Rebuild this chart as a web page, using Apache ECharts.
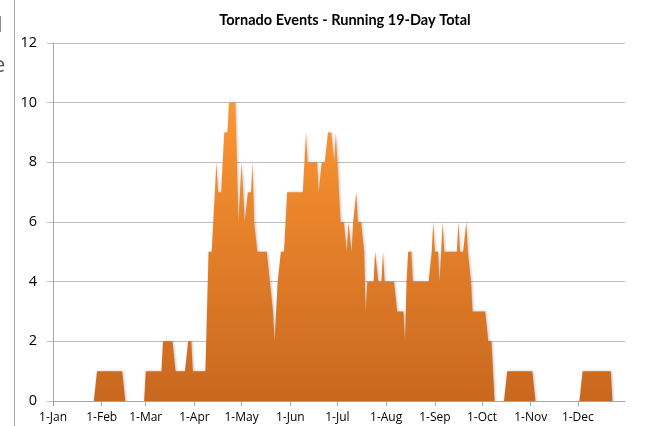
<!DOCTYPE html>
<html>
<head>
<meta charset="utf-8">
<script src="https://cdn.jsdelivr.net/npm/echarts@6/dist/echarts.min.js"></script>
<style>
html,body{margin:0;padding:0;background:#fff;}
#chart{width:652px;height:426px;}
</style>
</head>
<body>
<div id="chart"></div>
<script>
// Category labels (days of a non-leap year)
const monthNames = ['Jan','Feb','Mar','Apr','May','Jun','Jul','Aug','Sep','Oct','Nov','Dec'];
const monthLengths = [31,28,31,30,31,30,31,31,30,31,30,31];
const tickLabels = ['1-Jan','1-Feb','1-Mar','1-Apr','1-May','1-Jun','1-Jul','1-Aug','1-Sep','1-Oct','1-Nov','1-Dec'];

// Running 19-day totals, one array per month
const jan = [0,0,0,0,0,0,0,0,0,0, 0,0,0,0,0,0,0,0,0,0, 0,0,0,0,0,0,0,0,1,1, 1];
const feb = [1,1,1,1,1,1,1,1,1,1, 1,1,1,1,1,0,0,0,0,0, 0,0,0,0,0,0,0,0];
const mar = [1,1,1,1,1,1,1,1,1,1, 1,2,2,2,2,2,2,2,2,1, 1,1,1,1,1,1,1,2,2,2, 1];
const apr = [1,1,1,1,1,1,1,1,1,5, 5,5,5,7,8,7,7,7,7,9, 9,9,10,10,10,10,10,10,6,7];
const may = [8,7,6,6,7,7,7,8,6,6, 5,5,5,5,5,5,5,5,4,4, 3,2,3,4,4,5,5,5,6,7, 7];
const jun = [7,7,7,7,7,7,7,7,7,8, 9,8,8,8,8,8,8,8,7,7, 8,8,8,8,9,9,9,9,8,9];
const jul = [8,7,6,6,6,6,5,6,6,5, 6,6,7,6,6,6,6,5,3,4, 4,4,4,4,5,5,4,4,4,5, 4];
const aug = [4,4,4,4,4,4,4,3,3,3, 3,3,2,4,5,5,5,4,4,4, 4,4,4,4,4,4,4,4,4,5, 6];
const sep = [5,5,5,4,5,6,5,5,5,5, 5,5,5,5,5,6,5,5,5,5, 6,5,5,4,3,3,3,3,3,3];
const oct = [3,3,3,3,2,2,2,1,0,0, 0,0,0,0,0,0,1,1,1,1, 1,1,1,1,1,1,1,1,1,1, 1];
const nov = [1,1,1,0,0,0,0,0,0,0, 0,0,0,0,0,0,0,0,0,0, 0,0,0,0,0,0,0,0,0,0];
const dec = [0,0,0,1,1,1,1,1,1,1, 1,1,1,1,1,1,1,1,1,1, 1,1,0,0,0,0,0,0,0,0, 0];

const values = [].concat(jan, feb, mar, apr, may, jun, jul, aug, sep, oct, nov, dec);
const dates = [];
monthLengths.forEach(function (len, m) {
  for (let d = 1; d <= len; d++) dates.push(d + '-' + monthNames[m]);
});
const isTick = function (i) { return tickLabels.indexOf(dates[i]) >= 0; };

const chart = echarts.init(document.getElementById('chart'), null, {renderer: 'canvas'});
chart.setOption({
  animation: false,
  backgroundColor: '#ffffff',
  title: {
    text: 'Tornado Events - Running 19-Day Total',
    left: 340,
    top: 8,
    textAlign: 'center',
    textStyle: {fontFamily: 'Lato', fontWeight: 'bold', fontSize: 14.5, color: '#000'}
  },
  grid: {left: 53, right: 27, top: 43, bottom: 25, containLabel: false},
  xAxis: {
    type: 'category',
    boundaryGap: false,
    data: dates,
    axisLine: {lineStyle: {color: '#a6a6a6', width: 1}},
    axisTick: {interval: function (i) { return isTick(i); }, length: 5, lineStyle: {color: '#a6a6a6'}},
    axisLabel: {interval: function (i) { return isTick(i); }, margin: 11, fontFamily: 'Open Sans', fontSize: 12, color: '#000'},
    splitLine: {show: false}
  },
  yAxis: {
    type: 'value',
    min: 0, max: 12, interval: 2,
    axisLine: {show: true, lineStyle: {color: '#a6a6a6', width: 1}},
    axisTick: {show: true, length: 6, lineStyle: {color: '#bfbfbf'}},
    axisLabel: {margin: 16, fontFamily: 'Open Sans', fontSize: 14.5, color: '#000'},
    splitLine: {lineStyle: {color: '#bfbfbf', width: 1}}
  },
  series: [{
    type: 'line',
    data: values,
    symbol: 'none',
    lineStyle: {width: 0},
    areaStyle: {
      opacity: 1,
      color: new echarts.graphic.LinearGradient(0, 0, 0, 1, [
        {offset: 0, color: '#FC9633'},
        {offset: 1, color: '#C9671F'}
      ]),
      shadowBlur: 3,
      shadowColor: 'rgba(0,0,0,0.25)',
      shadowOffsetX: 1,
      shadowOffsetY: 0
    }
  }],
  graphic: [
    {type: 'line', shape: {x1: 14.5, y1: 0, x2: 14.5, y2: 426}, style: {stroke: '#a6a6a6', lineWidth: 1}},
    {type: 'text', left: -3, top: 15, style: {text: 'l', font: '22px "Open Sans"', fill: '#595959'}},
    {type: 'text', left: -7, top: 55, style: {text: 'e', font: '22px "Open Sans"', fill: '#595959'}}
  ]
});
</script>
</body>
</html>
